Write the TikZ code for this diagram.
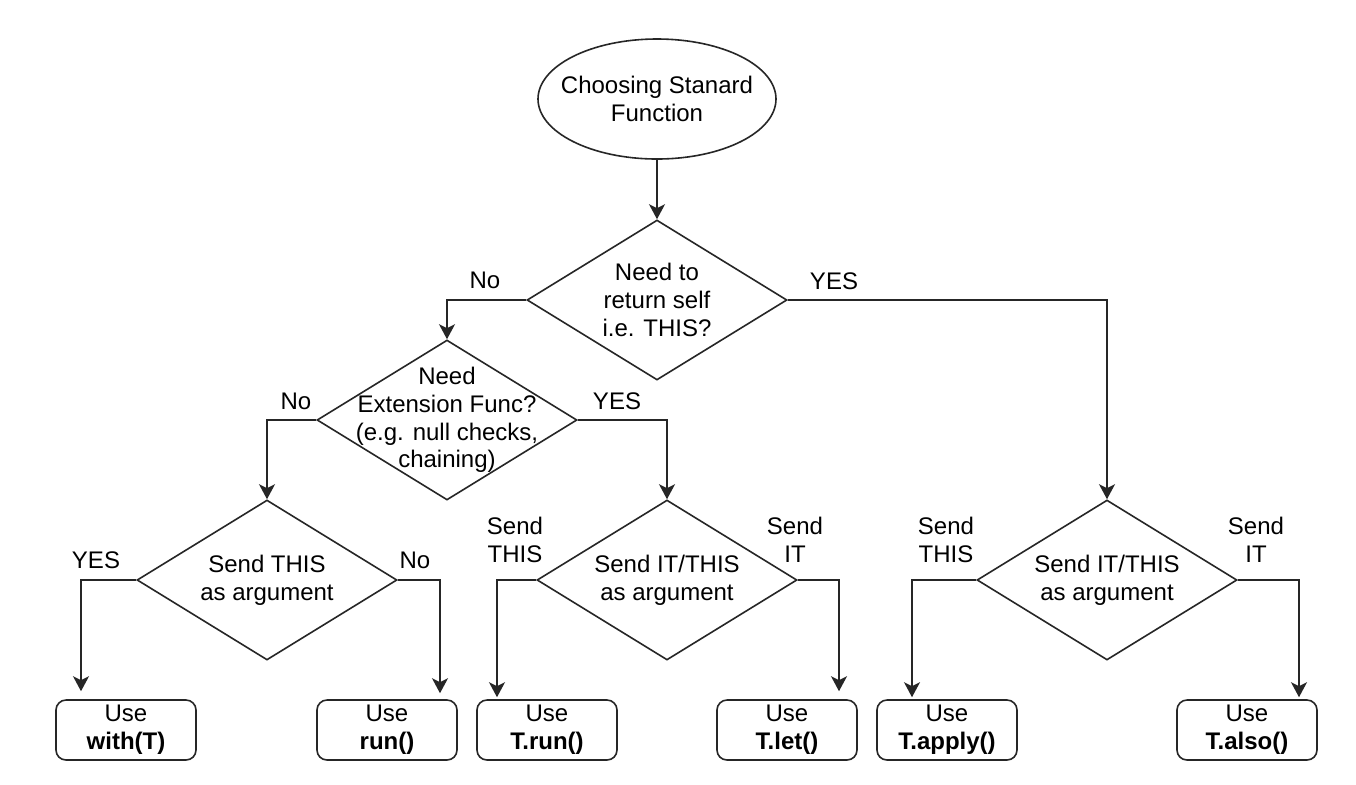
\documentclass[tikz,border=0pt]{standalone}
\usepackage{fontspec}
\setmainfont{Liberation Sans}
\usetikzlibrary{arrows.meta,shapes.geometric}
\newcommand{\fs}{\fontsize{12}{13.8}\selectfont}
\tikzset{
  flow/.style={draw=black!85, line width=0.8pt, -{Stealth[length=7.5pt,width=8pt,inset=2pt]}},
  shp/.style={draw=black!85, line width=0.8pt, inner sep=0pt},
  dia/.style={shp, diamond, minimum width=130pt, minimum height=80pt},
  oval/.style={shp, ellipse, minimum width=119pt, minimum height=60pt},
  usebox/.style={shp, rectangle, rounded corners=5pt, minimum width=70pt, minimum height=30pt, font=\fs, align=center},
  txt/.style={font=\fs, align=center, inner sep=0pt}
}
\begin{document}
\begin{tikzpicture}[x=0.5pt,y=-0.5pt]
\fill[white] (0,0) rectangle (1356,784);
\useasboundingbox (0,0) rectangle (1356,784);
% shapes
\node[oval] (start) at (657,99) {};
\node[txt] (startt) at (start) {Choosing Stanard\\Function};
\node[dia] (self) at (657,300) {};
\node[txt] (selft) at (self) {Need to\\return self\\i.e. THIS?};
\node[dia] (ext) at (447,420) {};
\node[txt] (extt) at (ext) {Need\\Extension Func?\\(e.g. null checks,\\chaining)};
\node[dia] (sthis) at (267,580) {};
\node[txt] (sthist) at (sthis) {Send THIS\\as argument};
\node[dia] (sitl) at (667,580) {};
\node[txt] (sitlt) at (sitl) {Send IT/THIS\\as argument};
\node[dia] (sitr) at (1107,580) {};
\node[txt] (sitrt) at (sitr) {Send IT/THIS\\as argument};
% results
\node[usebox] (with) at (126,730) {Use\\\textbf{with(T)}};
\node[usebox] (run) at (387,730) {Use\\\textbf{run()}};
\node[usebox] (trun) at (547,730) {Use\\\textbf{T.run()}};
\node[usebox] (tlet) at (787,730) {Use\\\textbf{T.let()}};
\node[usebox] (tapply) at (947,730) {Use\\\textbf{T.apply()}};
\node[usebox] (talso) at (1247,730) {Use\\\textbf{T.also()}};
% connectors
\draw[flow] (start.south) -- (self.north);
\draw[flow] (self.west) -| (ext.north);
\draw[flow] (self.east) -| (sitr.north);
\draw[flow] (ext.west) -| (sthis.north);
\draw[flow] (ext.east) -| (sitl.north);
\draw[flow, shorten >=4pt] (sthis.west) -| ([xshift=-22.5pt]with.north);
\draw[flow, shorten >=3pt] (sthis.east) -| ([xshift=26.5pt]run.north);
\draw[flow, shorten >=1pt] (sitl.west) -| ([xshift=-25pt]trun.north);
\draw[flow, shorten >=4pt] (sitl.east) -| ([xshift=26pt]tlet.north);
\draw[flow, shorten >=1pt] (sitr.west) -| ([xshift=-17.5pt]tapply.north);
\draw[flow, shorten >=1pt] (sitr.east) -| ([xshift=26pt]talso.north);
% labels
\node[txt] (l1) at (485,280) {No};
\node[txt] (l2) at (834,281) {YES};
\node[txt] (l3) at (296,401) {No};
\node[txt] (l4) at (617,401) {YES};
\node[txt] (l5) at (96,560) {YES};
\node[txt] (l6) at (415,560) {No};
\node[txt] (l7) at (515,540) {Send\\THIS};
\node[txt] (l8) at (795,540) {Send\\IT};
\node[txt] (l9) at (946,540) {Send\\THIS};
\node[txt] (l10) at (1256,540) {Send\\IT};
\end{tikzpicture}
\end{document}
